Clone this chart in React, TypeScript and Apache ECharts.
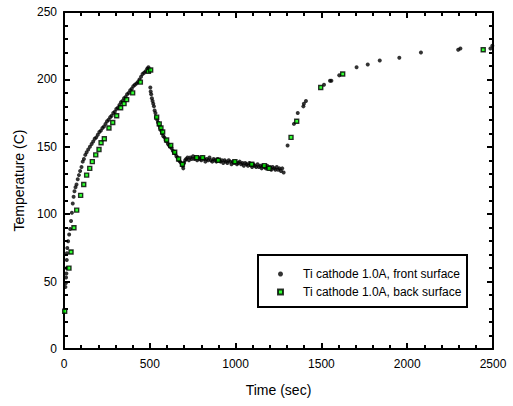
import React, { useEffect, useRef } from "react";
import * as echarts from "echarts";

// Time (sec), Temperature (C)
const frontSurface: number[][] = [
  [8, 46], [11, 49], [12, 53], [14, 56], [15, 60], [16, 66], [17, 71], [19, 75], [24, 80], [30, 85],
  [36, 89], [41, 95], [46, 101], [51, 108], [56, 113], [61, 117], [67, 120], [73, 122], [80, 126], [87, 129],
  [94, 132], [102, 135], [109, 139], [116, 141], [124, 144], [132, 146], [141, 148], [151, 150], [161, 152], [170, 154],
  [179, 156], [188, 157], [197, 159], [206, 161], [215, 162], [224, 164], [233, 165], [242, 167], [251, 169], [260, 170],
  [269, 172], [278, 173], [287, 175], [296, 176], [305, 178], [314, 179], [323, 181], [332, 183], [341, 184], [350, 186],
  [359, 187], [368, 189], [377, 190], [386, 192], [395, 193], [404, 195], [413, 196], [422, 197], [431, 198], [440, 200],
  [449, 202], [458, 204], [467, 205], [476, 206], [485, 208], [492, 209],
  [498, 207], [503, 194], [505, 191], [508, 189], [512, 186], [516, 184], [520, 182], [524, 180], [528, 177], [533, 175],
  [538, 172], [543, 170], [548, 168], [554, 166], [560, 164], [566, 162], [572, 160], [578, 158], [585, 157], [592, 155],
  [599, 154], [606, 152], [613, 151], [620, 150], [627, 149], [634, 147], [641, 146], [648, 145], [655, 143], [662, 142],
  [669, 140], [676, 139], [683, 138], [690, 136], [695, 134], [700, 138], [706, 140],
  [712, 141], [720, 142], [728, 140], [736, 142], [744, 141], [752, 143], [760, 141], [768, 142], [776, 140], [784, 142],
  [792, 141], [800, 140], [808, 142], [816, 141], [824, 139], [832, 141], [840, 140], [848, 142], [856, 140], [864, 139],
  [872, 141], [880, 140], [888, 139], [896, 141], [904, 140], [912, 139], [920, 140], [928, 138], [936, 140], [944, 139],
  [952, 138], [960, 140], [968, 139], [976, 137], [984, 139], [992, 138], [1000, 139], [1008, 137], [1016, 138], [1024, 139],
  [1032, 137], [1040, 138], [1048, 136], [1056, 138], [1064, 137], [1072, 136], [1080, 138], [1088, 137], [1096, 135], [1104, 137],
  [1112, 136], [1120, 135], [1128, 137], [1136, 135], [1144, 136], [1152, 134], [1160, 136], [1168, 135], [1176, 134], [1184, 136],
  [1192, 134], [1200, 135], [1208, 133], [1216, 135], [1224, 134], [1232, 133], [1240, 135], [1248, 133], [1256, 134], [1264, 132],
  [1272, 134], [1280, 131],
  [1303, 151], [1340, 167], [1362, 175], [1395, 180], [1398, 182], [1410, 184], [1515, 196], [1550, 199], [1558, 199], [1604, 203],
  [1705, 209], [1770, 211], [1840, 214], [1954, 216], [2080, 220], [2297, 222], [2310, 223], [2485, 223], [2496, 225],
];

const backSurface: number[][] = [
  [4, 28], [29, 60], [41, 72], [58, 90], [74, 103], [97, 114], [115, 122], [132, 129], [150, 134], [165, 139],
  [185, 144], [204, 148], [216, 153], [235, 156], [262, 164], [284, 168], [307, 173], [330, 179], [350, 182], [365, 185],
  [400, 190], [445, 198], [492, 206], [505, 207],
  [540, 172], [555, 167], [565, 164], [575, 161], [598, 155], [622, 151], [645, 146], [668, 141], [690, 137],
  [773, 142], [808, 142], [899, 140], [996, 139], [1094, 137], [1167, 136], [1195, 134],
  [1323, 157], [1356, 169], [1496, 194], [1624, 204], [2443, 222],
];

const seriesNames = ["Ti cathode 1.0A, front surface", "Ti cathode 1.0A, back surface"];
const xTitle = "Time (sec)";
const yTitle = "Temperature (C)";
const xRange = { min: 0, max: 2500, major: 500, minor: 100 };
const yRange = { min: 0, max: 250, major: 50, minor: 10 };

const FONT = "'Liberation Sans', Arial, sans-serif";

function axis(r: typeof xRange, position: string, isMinor: boolean, extra: any = {}) {
  return {
    type: "value",
    min: r.min,
    max: r.max,
    interval: isMinor ? r.minor : r.major,
    position,
    axisLine: isMinor
      ? { show: false, onZero: false }
      : { show: true, onZero: false, lineStyle: { color: "#000", width: 2 } },
    axisTick: { show: true, inside: true, length: isMinor ? 4 : 6, lineStyle: { color: "#000", width: 2 } },
    splitLine: { show: false },
    axisLabel: { show: false },
    ...extra,
  };
}

const labelStyle = {
  show: true, color: "#000", fontSize: 12, fontFamily: FONT,
  showMinLabel: true, showMaxLabel: true,
  formatter: (v: number) => String(v),
};

export default function App() {
  const ref = useRef<HTMLDivElement>(null);
  useEffect(() => {
    if (!ref.current) return;
    const chart = echarts.init(ref.current, undefined, { renderer: "svg" });
    chart.setOption({
      animation: false,
      backgroundColor: "#fff",
      grid: { left: 64, right: 20, top: 12, bottom: 57 },
      xAxis: [
        axis(xRange, "bottom", false, {
          axisLabel: { ...labelStyle, margin: 9 },
          name: xTitle, nameLocation: "middle", nameGap: 34,
          nameTextStyle: { color: "#000", fontSize: 14, fontFamily: FONT },
        }),
        axis(xRange, "bottom", true),
        axis(xRange, "top", false),
        axis(xRange, "top", true),
      ],
      yAxis: [
        axis(yRange, "left", false, {
          axisLabel: { ...labelStyle, margin: 7 },
          name: yTitle, nameLocation: "middle", nameGap: 36,
          nameTextStyle: { color: "#000", fontSize: 14, fontFamily: FONT },
        }),
        axis(yRange, "left", true),
        axis(yRange, "right", false),
        axis(yRange, "right", true),
      ],
      graphic: [
        {
          type: "rect", z: 0,
          shape: { x: 258, y: 255, width: 209, height: 52 },
          style: { fill: "#fff", stroke: "#000", lineWidth: 2 },
        },
      ],
      legend: {
        orient: "vertical", left: 277, top: 267, padding: 0, itemGap: 4,
        itemWidth: 5, itemHeight: 5, z: 10,
        textStyle: { color: "#000", fontSize: 12, fontFamily: FONT, lineHeight: 14, padding: [0, 0, 0, 15] },
        data: [
          { name: seriesNames[0], icon: "circle" },
          { name: seriesNames[1], icon: "rect" },
        ],
      },
      series: [
        {
          name: seriesNames[0], type: "scatter", data: frontSurface,
          xAxisIndex: 0, yAxisIndex: 0, z: 2,
          symbol: "circle", symbolSize: 4,
          itemStyle: { color: "#000" },
        },
        {
          name: seriesNames[1], type: "scatter", data: backSurface,
          xAxisIndex: 0, yAxisIndex: 0, z: 3,
          symbol: "rect", symbolSize: 4,
          itemStyle: { color: "#00ff00", borderColor: "#000", borderWidth: 1.4 },
        },
      ],
    });
    return () => chart.dispose();
  }, []);
  return (
    <div
      ref={ref}
      style={{ position: "absolute", left: 0, top: 0, width: 513, height: 406 }}
    />
  );
}
